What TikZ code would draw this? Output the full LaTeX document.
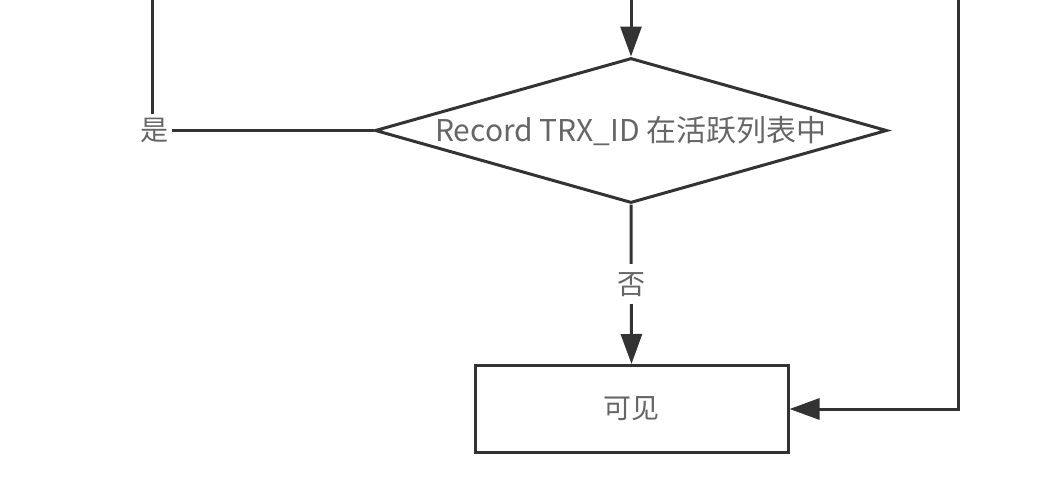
\documentclass[tikz,border=0pt]{standalone}
\usepackage{fontspec}
\setmainfont{Noto Sans CJK SC}
\usetikzlibrary{shapes.geometric,arrows.meta}
\definecolor{linec}{HTML}{333333}
\definecolor{textc}{HTML}{666666}
\begin{document}
\begin{tikzpicture}[x=1pt,y=-1pt,
  every node/.style={font=\fontsize{28}{34}\selectfont, text=textc},
  conn/.style={draw=linec, line width=3pt},
  arr/.style={conn, -{Triangle[length=30pt,width=21pt]}},
  decision/.style={shape=diamond, draw=linec, line width=3pt, inner sep=0pt, aspect=3.53, minimum width=512pt, minimum height=145pt, font=\fontsize{30}{36}\selectfont},
  stepbox/.style={shape=rectangle, draw=linec, line width=3pt, minimum width=313pt, minimum height=87pt},
  lab/.style={fill=white, inner sep=4pt}]
\useasboundingbox (0,0) rectangle (1062,488);
\node[decision] (d) at (631,130.5) {\raisebox{-2pt}{Record TRX\_ID 在活跃列表中}};
\node[stepbox] (v) at (631.5,409) {可见};
\coordinate (top) at (631,-3);
\coordinate (lt) at (152,-3);
\coordinate (rt) at (958,-3);
\draw[arr] (top) -- (d.north);
\draw[conn] (d.west) -| node[lab, pos=0.5, xshift=2pt] (yes) {是} (lt);
\draw[arr] (d.south) -- node[lab, inner sep=8pt] (no) {否} (v.north);
\draw[arr] (rt) |- (v.east);
\end{tikzpicture}
\end{document}
